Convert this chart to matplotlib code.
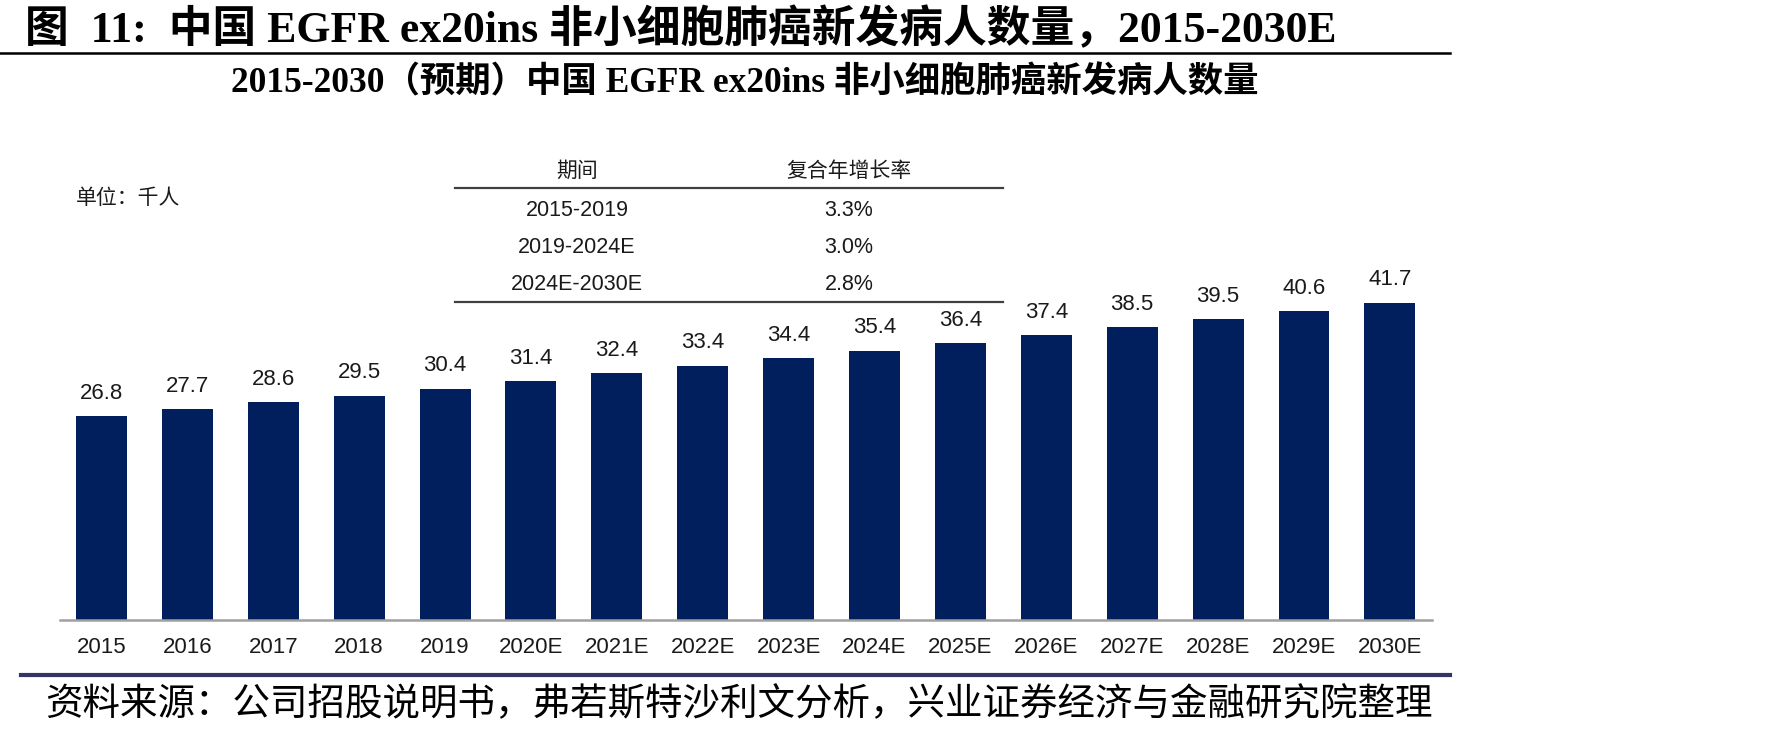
import matplotlib
matplotlib.use("Agg")
import matplotlib.pyplot as plt
from matplotlib.lines import Line2D
import numpy as np

W, H = 1771, 731
DPI = 100

years = ['2015', '2016', '2017', '2018', '2019', '2020E', '2021E', '2022E',
         '2023E', '2024E', '2025E', '2026E', '2027E', '2028E', '2029E', '2030E']
patients = [26.8, 27.7, 28.6, 29.5, 30.4, 31.4, 32.4, 33.4,
            34.4, 35.4, 36.4, 37.4, 38.5, 39.5, 40.6, 41.7]

periods = ['2015-2019', '2019-2024E', '2024E-2030E']
cagr = ['3.3%', '3.0%', '2.8%']

title = '图  11:  中国 EGFR ex20ins 非小细胞肺癌新发病人数量，2015-2030E'
subtitle = '2015-2030（预期）中国 EGFR ex20ins 非小细胞肺癌新发病人数量'
source = '资料来源：公司招股说明书，弗若斯特沙利文分析，兴业证券经济与金融研究院整理'

SANS = ['Liberation Sans', 'Noto Sans CJK SC', 'DejaVu Sans']
SERIF = ['Liberation Serif', 'Noto Sans CJK SC', 'DejaVu Sans']
CJK = ['Noto Sans CJK SC', 'DejaVu Sans']
BAR = '#001f5c'
TXT = '#1a1a1a'


def fx(x):
    return x / W


def fy(y):
    return 1 - y / H


fig = plt.figure(figsize=(W / DPI, H / DPI), dpi=DPI)

# plot area in pixel coords: x 60..1432, y 130..620
ax = fig.add_axes([fx(60), fy(620), (1432 - 60) / W, (620 - 130) / H])
x = np.arange(len(years))
ax.bar(x, patients, width=0.593, color=BAR)
for xi, v in zip(x, patients):
    ax.annotate(f'{v:.1f}', (xi, v), xytext=(0, 16.5), textcoords='offset points',
                ha='center', va='center', fontsize=16, family=SANS, color=TXT)
ax.set_xlim(-0.483, 15.49)
ax.set_ylim(0, 64.4)
ax.set_xticks(x)
ax.set_xticklabels(years, family=SANS, fontsize=16, color=TXT)
ax.tick_params(axis='x', length=0, pad=12.5)
ax.set_yticks([])
for s in ('top', 'right', 'left'):
    ax.spines[s].set_visible(False)
ax.spines['bottom'].set_color('#a0a0a0')
ax.spines['bottom'].set_linewidth(1.8)
ax.patch.set_alpha(0)

# titles and rules
fig.text(fx(25), fy(30), title, family=SERIF, fontweight='bold', fontsize=31.5,
         ha='left', va='center', color='black')
fig.add_artist(Line2D([0, fx(1450)], [fy(53), fy(53)], color='black', lw=1.8))
fig.text(fx(745), fy(83), subtitle, family=SERIF, fontweight='bold', fontsize=25.5,
         ha='center', va='center', color='black')

fig.text(fx(76), fy(198), '单位：千人', family=SANS, fontsize=15, ha='left',
         va='center', color=TXT)

# CAGR table
c1, c2 = 577, 849
fig.text(fx(c1), fy(171), '期间', family=SANS, fontsize=15, ha='center', va='center', color=TXT)
fig.text(fx(c2), fy(171), '复合年增长率', family=SANS, fontsize=15, ha='center', va='center', color=TXT)
fig.add_artist(Line2D([fx(455), fx(1003)], [fy(188), fy(188)], color='#404040', lw=1.6))
for yy, p, c in zip([211, 247, 284], periods, cagr):
    fig.text(fx(c1), fy(yy), p, family=SANS, fontsize=15.5, ha='center', va='center', color=TXT)
    fig.text(fx(c2), fy(yy), c, family=SANS, fontsize=15.5, ha='center', va='center', color=TXT)
fig.add_artist(Line2D([fx(455), fx(1003)], [fy(302), fy(302)], color='#404040', lw=1.6))

# bottom rule and source
fig.add_artist(Line2D([fx(21), fx(1450)], [fy(675), fy(675)], color='#343466', lw=3))
fig.text(fx(45), fy(705), source, family=CJK, fontsize=27, ha='left', va='center', color='black')

fig.savefig('out.png', dpi=DPI)
